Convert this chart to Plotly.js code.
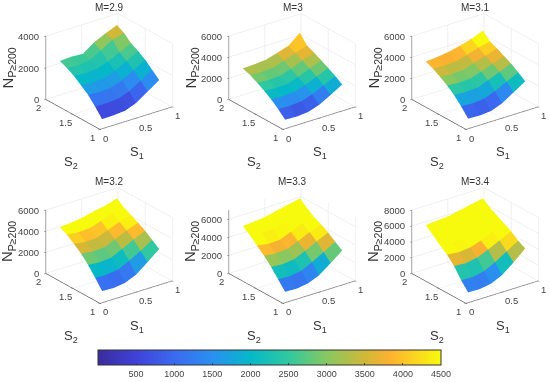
<!DOCTYPE html>
<html><head><meta charset="utf-8">
<script src="https://cdn.plot.ly/plotly-3.0.1.min.js"></script>
<style>html,body{margin:0;padding:0;background:#fff}#g{width:550px;height:382px;filter:blur(0.4px)}</style>
</head><body><div id="g"></div>
<script>
const S1 = [0.03,0.19,0.35,0.5,0.66,0.82];
const S2 = [1,1.13,1.26,1.39,1.52,1.65,1.78];
const M_LABELS = ['M=2.9','M=3','M=3.1','M=3.2','M=3.3','M=3.4'];
const Z_MAX = [4000,6000,6000,6000,7000,8000];
const Z_TICKS = [[0,2000,4000],[0,2000,4000,6000],[0,2000,4000,6000],[0,2000,4000,6000],[0,2000,4000,6000],[0,2000,4000,6000,8000]];
const S1_TICKS = [0,0.5,1];
const S2_TICKS = [1,1.5,2];
const CB_TICKS = [500,1000,1500,2000,2500,3000,3500,4000,4500];
const N_29 = [[600,620,680,950,1450,1950],[1150,1150,1200,1450,1900,2350],[1650,1600,1650,1900,2300,2750],[2000,1950,2000,2250,2650,3050],[2350,2300,2350,2600,2950,3300],[2600,2550,2650,3050,3500,3700],[2800,2850,2800,3300,3650,3950]];
const N_30 = [[850,800,900,1250,1850,2500],[1500,1450,1550,1900,2400,2950],[2050,2000,2050,2400,2850,3350],[2500,2400,2450,2800,3250,3700],[2900,2800,2850,3200,3650,4050],[3250,3200,3250,3600,4000,4350],[3500,3550,3650,3950,4300,5200]];
const N_31 = [[950,900,1000,1400,2100,2800],[1750,1700,1800,2200,2750,3300],[2450,2400,2450,2850,3300,3750],[3000,2900,2950,3300,3700,4100],[3450,3350,3400,3750,4100,4450],[3850,3800,3850,4150,4500,4750],[4150,4250,4400,4650,4950,5400]];
const N_32 = [[1100,1050,1200,1650,2500,3400],[2000,1950,2100,2600,3200,3900],[2850,2750,2850,3350,3900,4400],[3550,3400,3450,3900,4400,4800],[4100,3950,4000,4400,4850,5150],[4600,4500,4550,4900,5250,5500],[4950,5050,5200,5450,5650,6000]];
const N_33 = [[1200,1150,1350,1850,2800,3800],[2150,2100,2300,2900,3600,4350],[3100,3000,3150,3700,4350,4950],[3900,3750,3850,4350,4950,5400],[4600,4400,4450,4950,5500,5800],[5300,5150,5200,5600,6100,6350],[5900,6000,6150,6450,6700,7000]];
const N_34 = [[1300,1250,1500,2150,3300,4600],[2350,2300,2600,3300,4200,5100],[3650,3550,3800,4400,5100,5800],[4600,4450,4600,5050,5750,6300],[5300,5050,5150,5700,6300,6800],[6100,5950,6000,6450,6950,7300],[6850,7000,7100,7400,7700,8000]];
const GRIDS = [N_29,N_30,N_31,N_32,N_33,N_34];

const W=550,H=382;
const colors=[[0,'#3a2c9e'],[0.11,'#3f42d8'],[0.222,'#3a6af0'],[0.333,'#2a90f0'],[0.444,'#05b8c8'],[0.556,'#30c8a0'],[0.667,'#88c860'],[0.778,'#d0b838'],[0.85,'#fdb130'],[1,'#f8fa0d']];
const CX=[108.5,291.5,474.5], CY=[72.5,247.5];
const DW=150, DH=140, R=1.46, AS=1.3;
const FAM='Liberation Sans, Arial, sans-serif';
const fontTick={family:FAM,size:9.5,color:'#444'};
const fontLab={family:FAM,size:13,color:'#333'};

const data=[],layout={width:W,height:H,margin:{l:0,r:0,t:0,b:0},paper_bgcolor:'#fff',showlegend:false,annotations:[]};
GRIDS.forEach((g,p)=>{
  const x=[],y=[],z=[],a=[],b=[],c=[],inten=[];
  const nc=S1.length,nr=S2.length;
  for(let r=0;r<nr;r++)for(let q=0;q<nc;q++){x.push(S1[q]);y.push(S2[r]);z.push(g[r][q]);}
  for(let r=0;r<nr-1;r++)for(let q=0;q<nc-1;q++){
    const v=r*nc+q;
    a.push(v,v);b.push(v+1,v+nc+1);c.push(v+nc+1,v+nc);
    inten.push(g[r][q],g[r][q]);
  }
  const sid=p===0?'scene':'scene'+(p+1);
  const tr={type:'mesh3d',scene:sid,x,y,z,i:a,j:b,k:c,intensity:inten,intensitymode:'cell',
    colorscale:colors,cmin:0,cmax:4500,showscale:p===0,flatshading:true,hoverinfo:'skip',
    lighting:{ambient:1,diffuse:0,specular:0,roughness:1,fresnel:0},
    lightposition:{x:0,y:0,z:1000}};
  if(p===0)tr.colorbar={orientation:'h',len:343,lenmode:'pixels',thickness:15,thicknessmode:'pixels',
    x:269.5/W,xanchor:'center',y:1-353/H,yanchor:'top',xpad:0,ypad:0,
    tickmode:'array',tickvals:CB_TICKS,ticktext:CB_TICKS.map(String),ticks:'inside',ticklen:2,tickcolor:'#444',
    tickfont:{family:FAM,size:9,color:'#444'},outlinecolor:'#333',outlinewidth:1};
  data.push(tr);
  const cx=CX[p%3],cy=CY[p>2?1:0];
  const zmax=Z_MAX[p];
  const ax=(range,tv)=>({range,tickvals:tv,ticktext:tv.map(()=>''),showticklabels:false,title:{text:''},showgrid:true,gridcolor:'#e2e2e2',gridwidth:1,
    zeroline:false,showline:true,linecolor:'#555',linewidth:1.5,showbackground:false,showspikes:false,ticks:'outside',ticklen:2,tickcolor:'#555'});
  const ann=[];
  const t=(x,y,z,text,xs,ys,xa,font,extra)=>ann.push(Object.assign({x,y,z,text:String(text),showarrow:false,xshift:xs,yshift:ys,xanchor:xa||'center',yanchor:'middle',font:font||fontTick},extra||{}));
  Z_TICKS[p].forEach(v=>t(0,2,v,v,-4,0,'right'));
  S2_TICKS.forEach(v=>t(0,v,0,v,-7,-8));
  S1_TICKS.forEach(v=>t(v,1,0,v,v===0.5?10:6,-8.5));
  t(0.5,1,0,'S<sub>1</sub>',1,-34,'center',fontLab);
  t(0,1.5,0,'S<sub>2</sub>',-1,-48,'center',fontLab);
  t(0,2,zmax/2,'N<sub>P≥200</sub>',-37,0,'center',{family:FAM,size:15,color:'#333'},{textangle:-90});
  layout[sid]={domain:{x:[(cx-DW/2)/W,(cx+DW/2)/W],y:[1-(cy+DH/2)/H,1-(cy-DH/2)/H]},
    aspectmode:'manual',aspectratio:{x:AS,y:AS,z:0.77*AS},
    camera:{projection:{type:'orthographic'},center:{x:0,y:0,z:0},up:{x:0,y:0,z:1},eye:{x:-0.546*R,y:-0.728*R,z:0.415*R}},
    xaxis:ax([0,1],S1_TICKS),yaxis:ax([1,2],S2_TICKS),zaxis:ax([0,zmax],Z_TICKS[p]),
    annotations:ann,bgcolor:'rgba(0,0,0,0)',dragmode:false};
  layout.annotations.push({xref:'paper',yref:'paper',x:(cx+1)/W,y:1-(cy-65)/H,text:M_LABELS[p],showarrow:false,xanchor:'center',yanchor:'middle',
    font:{family:FAM,size:10,color:'#333'}});
});
Plotly.newPlot('g',data,layout,{displayModeBar:false});
</script></body></html>
